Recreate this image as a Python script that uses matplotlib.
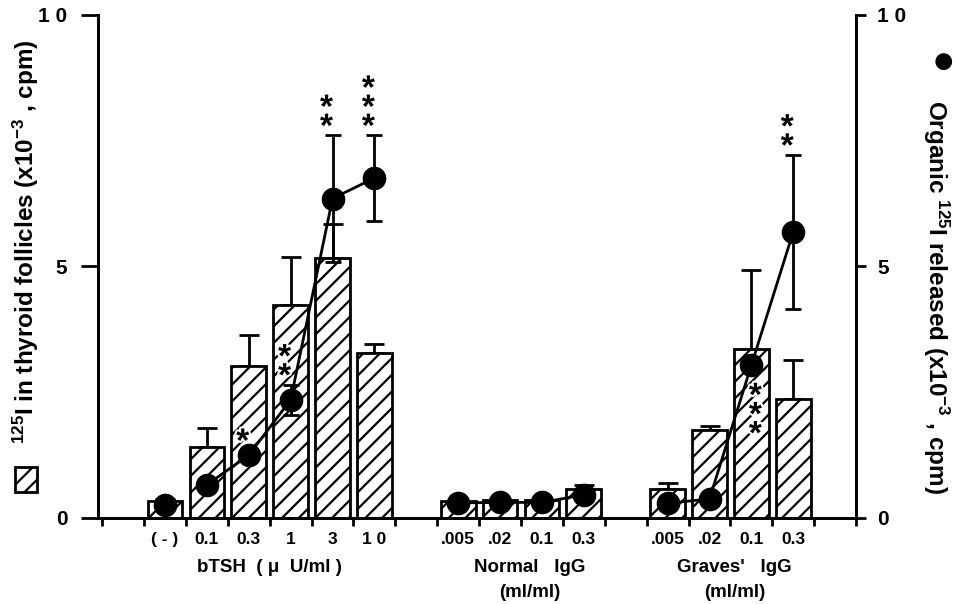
#thyroid follicle 125I uptake / organic 125I release chart

from matplotlib import pyplot as plt
from matplotlib.patches import Rectangle
import matplotlib.patheffects as pe
import numpy as np

plt.rcParams['font.family'] = ['Liberation Sans', 'DejaVu Sans']
plt.rcParams['font.weight'] = 'bold'
plt.rcParams['mathtext.fontset'] = 'custom'
plt.rcParams['mathtext.rm'] = 'Liberation Sans:bold'
plt.rcParams['mathtext.default'] = 'rm'
plt.rcParams['hatch.linewidth'] = 1.6

#data
dose_labels = ['( - )', '0.1', '0.3', '1', '3', '1 0',
               '.005', '.02', '0.1', '0.3',
               '.005', '.02', '0.1', '0.3']
bar_pos = np.array([1.5, 2.5, 3.5, 4.5, 5.5, 6.5,
                    8.5, 9.5, 10.5, 11.5,
                    13.5, 14.5, 15.5, 16.5])
uptake = np.array([0.33, 1.42, 3.03, 4.24, 5.17, 3.28,
                   0.34, 0.36, 0.36, 0.57,
                   0.57, 1.75, 3.36, 2.37])
uptake_err = np.array([0.05, 0.37, 0.60, 0.95, 0.68, 0.18,
                       0.0, 0.0, 0.0, 0.09,
                       0.13, 0.07, 1.58, 0.78])
released = np.array([0.26, 0.66, 1.25, 2.35, 6.35, 6.76,
                     0.30, 0.31, 0.31, 0.46,
                     0.29, 0.38, 3.04, 5.69])
released_err = np.array([0.08, 0.05, 0.10, 0.30, 1.26, 0.85,
                         0.04, 0.04, 0.04, 0.12,
                         0.04, 0.04, 0.05, 1.53])
#which points are joined by the line
line_groups = [[1, 2, 3, 4, 5], [6, 7, 8, 9], [10, 11, 12, 13]]
#significance stars: index, number of stars, above (True) or below the point
stars = [(2, 1, True), (3, 2, True), (4, 2, True), (5, 3, True),
         (12, 3, False), (13, 2, True)]
group_names = ['bTSH  ( \u03bc  U/ml )', 'Normal   IgG', "Graves'   IgG"]
group_units = ['', '(ml/ml)', '(ml/ml)']
group_centers = [4.0, 10.2, 15.1]

fig = plt.figure(figsize=(9.56, 6.04), dpi=100)
ax = fig.add_axes([0.1025, 0.1424, 0.793, 0.8328])
ax2 = ax.twinx()

#bars
ax.bar(bar_pos, uptake, width=0.83, color='white', edgecolor='black',
       linewidth=2, hatch='//', zorder=2)
ax.errorbar(bar_pos, uptake, yerr=[np.zeros_like(uptake_err), uptake_err],
            fmt='none', ecolor='black', elinewidth=2, capsize=7, capthick=2, zorder=1)

#points and lines
ax2.errorbar(bar_pos, released, yerr=released_err, fmt='none', ecolor='black',
             elinewidth=2, capsize=6, capthick=2, zorder=3)
for g in line_groups:
    ax2.plot(bar_pos[g], released[g], color='black', lw=2, zorder=4)
ax2.plot(bar_pos, released, 'o', color='black', ms=16, zorder=5)

#asterisks (mathtext so the box is tight round the glyph)
step = 0.38
for i, n, above in stars:
    for k in range(n):
        if above:
            x = bar_pos[i] - 0.12
            yc = released[i] + released_err[i] + 0.14 + k * step
        else:
            x = bar_pos[i] + 0.12
            yc = released[i] - 0.64 - k * step
        ax2.text(x, yc, '$*$', ha='center', va='center', fontsize=24, zorder=6,
                 path_effects=[pe.withStroke(linewidth=3, foreground='white')])

#axes
for a in (ax, ax2):
    a.set_ylim(0, 10)
    a.set_xlim(-0.1, 18)
    a.spines['top'].set_visible(False)
    for sp in a.spines.values():
        sp.set_linewidth(2)
ax.set_yticks([0, 5, 10])
ax.set_yticklabels(['0', '5', '1 0'], fontsize=15, fontweight='bold')
ax.tick_params(axis='y', direction='out', length=12, width=2, pad=10)
ax2.set_yticks([0, 5, 10])
ax2.set_yticklabels(['0', '5', '1 0'], fontsize=15, fontweight='bold')
ax2.tick_params(axis='y', direction='out', length=7, width=2, pad=8)
ax.set_xticks(np.arange(0, 19))
ax.set_xticklabels([])
ax.tick_params(axis='x', direction='out', length=6, width=2)
for x, lab in zip(bar_pos, dose_labels):
    ax.text(x, -0.42, lab, ha='center', va='center', fontsize=12.5, fontweight='bold')
for x, lab, unit in zip(group_centers, group_names, group_units):
    ax.text(x, -0.98, lab, ha='center', va='center', fontsize=13.5, fontweight='bold')
    ax.text(x, -1.48, unit, ha='center', va='center', fontsize=13.5, fontweight='bold')

#axis titles
fig.text(0.027, 0.6, '$^{125}$I in thyroid follicles (x10$^{-3}$ , cpm)', rotation=90,
         ha='center', va='center', fontsize=17.5, fontweight='bold')
fig.patches.append(Rectangle((0.0157, 0.185), 0.023, 0.041, transform=fig.transFigure,
                             facecolor='white', edgecolor='black', lw=2, hatch='//'))
fig.text(0.9864, 0.8957, '\u25cf', ha='center', va='center', fontsize=28)
fig.text(0.979, 0.508, 'Organic $^{125}$I released (x10$^{-3}$ , cpm)', rotation=270,
         ha='center', va='center', fontsize=17.5, fontweight='bold')

fig.savefig('out.png', dpi=100)
